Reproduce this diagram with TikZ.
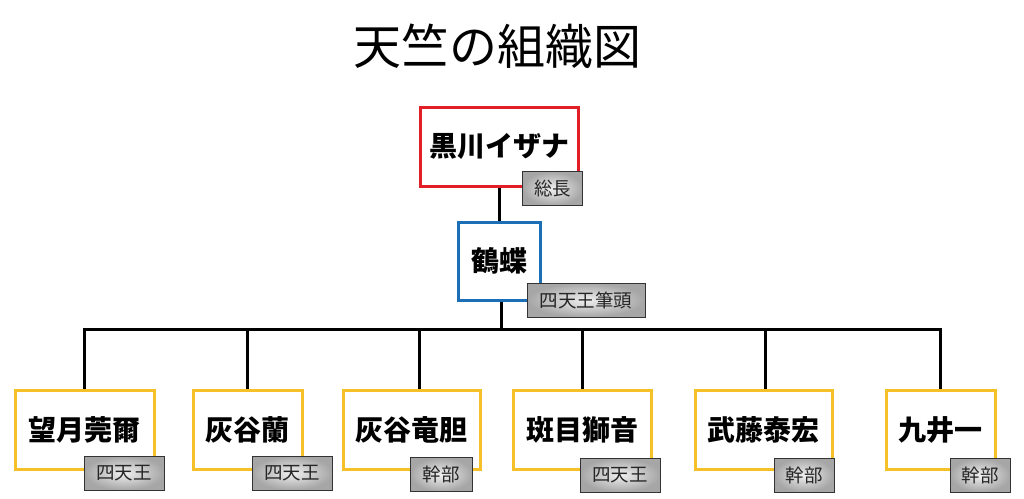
\documentclass[tikz,border=0pt]{standalone}
\usepackage{fontspec}
\newfontfamily\jp{Noto Sans CJK JP}
\usetikzlibrary{calc}
\definecolor{boxred}{RGB}{226,30,38}
\definecolor{boxblue}{RGB}{28,110,182}
\definecolor{boxyellow}{RGB}{246,192,40}
\tikzset{
  person/.style={fill=white, inner sep=0pt,
    minimum height=79pt, font=\jp\bfseries\fontsize{28}{30}\selectfont},
  redbox/.style={person, draw=boxred, line width=3pt},
  bluebox/.style={person, draw=boxblue, line width=3pt},
  yelbox/.style={person, draw=boxyellow, line width=3pt},
  badge/.style={draw=black!80, line width=1pt, inner sep=0pt, minimum height=34pt,
    inner color=gray!12, outer color=gray!70,
    font=\jp\fontsize{18.5}{20}\selectfont, text=black!85},
  link/.style={draw=black, line width=3pt}
}
\begin{document}
\begin{tikzpicture}[x=1pt,y=-1pt]
\useasboundingbox (0,0) rectangle (1024,498);
\fill[white] (0,0) rectangle (1024,498);
\node[font=\jp\fontsize{48}{50}\selectfont] (title) at (497,46) {天竺の組織図};
% connectors
\coordinate (bus) at (501,329);
% boxes
\node[redbox, minimum width=158pt] (top) at (499,146.5) {黒川イザナ};
\node[bluebox, minimum width=82pt, minimum height=78pt] (mid) at (499,261) {鶴蝶};
\node[yelbox, minimum width=139pt] (c1) at (84.5,429.5) {望月莞爾};
\node[yelbox, minimum width=109pt] (c2) at (247.5,429.5) {灰谷蘭};
\node[yelbox, minimum width=137pt] (c3) at (411.5,429.5) {灰谷竜胆};
\node[yelbox, minimum width=138pt] (c4) at (582,429.5) {斑目獅音};
\node[yelbox, minimum width=137pt] (c5) at (763.5,429.5) {武藤泰宏};
\node[yelbox, minimum width=109pt] (c6) at (940.5,429.5) {九井一};
\draw[link] (top.south) -- (mid.north);
\draw[link] ([xshift=2pt]mid.south) -- (bus);
\draw[link] (bus) -| (c1.north);
\draw[link] (bus) -| (c2.north);
\draw[link] (bus) -| ([xshift=7.5pt]c3.north);
\draw[link] (bus) -| (c4.north);
\draw[link] (bus) -| ([xshift=1.5pt]c5.north);
\draw[link] (bus) -| (c6.north);
% badges
\node[badge, minimum width=60pt] (b0) at (552.5,188.5) {総長};
\node[badge, minimum width=118pt] (b1) at (586,300) {四天王筆頭};
\node[badge, minimum width=80pt] (bc1) at (124,473) {四天王};
\node[badge, minimum width=80pt] (bc2) at (292,473) {四天王};
\node[badge, minimum width=62pt] (bc3) at (441,474.5) {幹部};
\node[badge, minimum width=80pt] (bc4) at (620,475) {四天王};
\node[badge, minimum width=60pt] (bc5) at (804,475) {幹部};
\node[badge, minimum width=60pt] (bc6) at (980,475) {幹部};
\end{tikzpicture}
\end{document}
